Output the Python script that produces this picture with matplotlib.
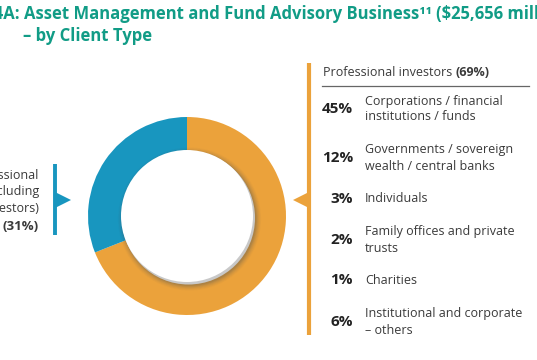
import matplotlib
matplotlib.use("Agg")
import matplotlib.pyplot as plt
from matplotlib.patches import Circle, Polygon

plt.rcParams['font.family'] = ['Open Sans', 'DejaVu Sans']

# data
shares = [69, 31]
share_colors = ["#EBA23B", "#1896BF"]
group_title = "Professional investors"
group_pct = "(69%)"
other_label = "Non-professional\ninvestors (including\nretail investors)"
other_pct = "(31%)"
pcts = ["45%", "12%", "3%", "2%", "1%", "6%"]
labels = [
    "Corporations / financial\ninstitutions / funds",
    "Governments / sovereign\nwealth / central banks",
    "Individuals",
    "Family offices and private\ntrusts",
    "Charities",
    "Institutional and corporate\n– others",
]
row_y = [109, 158, 199, 240, 280, 322]

W, H = 537, 360
fig = plt.figure(figsize=(W / 100, H / 100), dpi=100)
ax = fig.add_axes([0, 0, 1, 1])
ax.set_xlim(0, W)
ax.set_ylim(0, H)
ax.axis("off")


def Y(y):
    return H - y


teal = "#119C86"
txt = "#3a3a3a"

# title
ax.text(-57, Y(14), "Chart 4A: Asset Management and Fund Advisory Business\u00b9\u00b9 (\\$25,656 million)",
        fontsize=12, fontweight="bold", color=teal, va="center", ha="left")
ax.text(23, Y(36), "– by Client Type", fontsize=12, fontweight="bold", color=teal,
        va="center", ha="left")

# donut
cx, cy, r = 187, Y(216), 99
ax.pie(shares, colors=share_colors, startangle=90, counterclock=False,
       radius=r, center=(cx, cy), wedgeprops=dict(linewidth=0))
ri = 66
for k, a in zip(range(7, 0, -1), [0.03, 0.04, 0.05, 0.06, 0.08, 0.1, 0.12]):
    ax.add_patch(Circle((cx + 2.5, cy - 3), ri + k * 0.8, color="#555555", alpha=a, lw=0))
ax.add_patch(Circle((cx + 1.5, cy - 2), ri + 0.5, color="#c8c8c8", lw=0, zorder=4))
ax.add_patch(Circle((cx, cy), ri, color="white", lw=0, zorder=5))
ax.set_xlim(0, W)
ax.set_ylim(0, H)
ax.set_aspect("equal")

# left bracket (blue)
ax.plot([55, 55], [Y(164), Y(235)], color=share_colors[1], lw=2.8, solid_capstyle="butt")
ax.add_patch(Polygon([[55, Y(192)], [55, Y(208)], [71, Y(200)]], color=share_colors[1], lw=0))
ax.text(39, Y(192), other_label, fontsize=9, color=txt, ha="right", va="center",
        linespacing=1.3)
ax.text(39, Y(227), other_pct, fontsize=9.5, fontweight="bold", color=txt, ha="right",
        va="center")

# right bracket (orange)
ax.plot([309, 309], [Y(63), Y(335)], color=share_colors[0], lw=3, solid_capstyle="butt")
ax.add_patch(Polygon([[309, Y(192)], [309, Y(208)], [293, Y(200)]], color=share_colors[0], lw=0))

t = ax.text(323, Y(73), group_title + " ", fontsize=9, color=txt, ha="left", va="center")
fig.canvas.draw()
bb = t.get_window_extent()
ax.text(bb.x1, Y(73), group_pct, fontsize=9, fontweight="bold", color=txt, ha="left",
        va="center")
ax.plot([322, 529], [Y(86), Y(86)], color="#666666", lw=0.9)

for p, lab, y in zip(pcts, labels, row_y):
    ax.text(353, Y(y), p, fontsize=11, fontweight="bold", color="#222222", ha="right",
            va="center")
    ax.text(365, Y(y), lab, fontsize=9, color=txt, ha="left", va="center",
            linespacing=1.3)

fig.savefig("out.png", dpi=100)
